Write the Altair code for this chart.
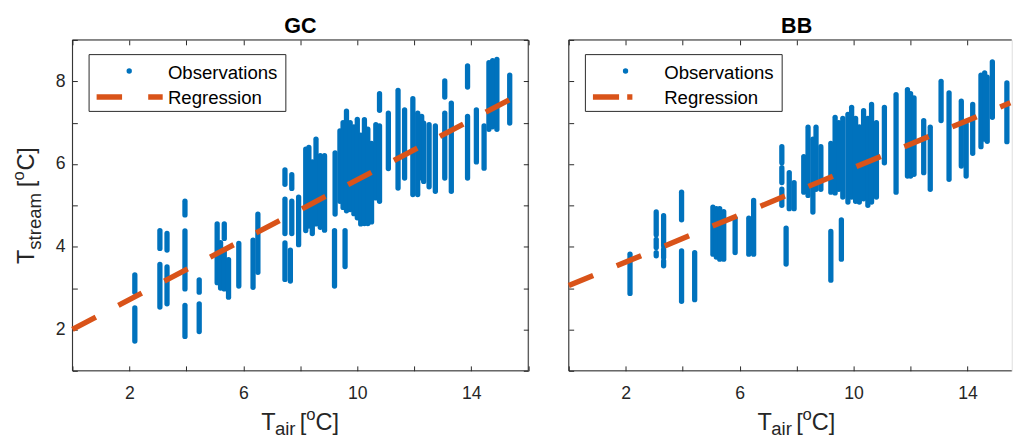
import altair as alt
import pandas as pd

# ---------------- data ----------------
# GC panel: vertical streaks of observations (air temperature, low / high stream temperature)
GC_x = [2.19, 2.19, 3.07, 3.07, 3.32, 3.32, 3.95, 3.95, 3.95, 4.45, 4.45, 5.08, 5.20, 5.33, 5.33,
        5.48, 5.84, 6.34, 6.51, 7.46, 7.46, 7.46, 7.70, 7.70, 7.65, 7.94, 8.19, 8.30, 8.42, 8.55,
        8.70, 8.85, 9.22, 9.20, 9.57, 9.39, 9.50, 9.62, 9.75, 9.88, 10.00, 10.12, 10.25, 10.37,
        10.50, 10.65, 10.78, 10.78, 11.09, 11.43, 11.66, 11.95, 12.12, 12.26, 12.33, 12.52, 12.74,
        13.07, 13.07, 13.30, 13.87, 13.87, 14.18, 14.45, 14.62, 14.75, 14.90, 15.35]
GC_lo = [2.90, 1.72, 3.96, 2.54, 3.92, 2.62, 4.77, 2.98, 1.83, 2.90, 1.95, 3.13, 3.00, 4.20, 2.98,
         2.78, 3.05, 3.02, 3.38, 5.51, 4.32, 3.21, 5.41, 4.32, 3.17, 4.05, 4.39, 4.50, 4.32, 4.55,
         4.47, 4.40, 4.79, 3.05, 3.52, 5.10, 4.95, 4.87, 4.90, 4.80, 4.70, 4.55, 4.56, 4.56,
         4.60, 5.18, 7.30, 5.10, 5.89, 5.42, 5.66, 5.26, 5.26, 5.66, 5.58, 5.45, 5.34,
         7.62, 5.66, 5.34, 7.86, 5.66, 6.05, 5.90, 6.84, 6.90, 6.84, 6.99]
GC_hi = [3.32, 2.52, 4.39, 3.57, 4.32, 3.51, 5.10, 4.38, 2.58, 3.20, 2.62, 4.55, 4.10, 4.55, 3.92,
         3.69, 4.08, 4.16, 4.79, 5.86, 5.15, 4.09, 5.74, 5.10, 3.92, 5.20, 6.36, 6.40, 6.05, 6.60,
         6.20, 6.20, 6.27, 4.39, 4.39, 6.80, 7.00, 7.28, 7.00, 6.90, 7.08, 6.70, 7.07, 6.84,
         6.50, 6.95, 7.70, 6.92, 7.23, 7.78, 7.31, 7.58, 7.23, 7.15, 6.99, 6.95, 6.92,
         8.01, 7.23, 7.47, 8.37, 7.15, 7.31, 6.92, 8.45, 8.50, 8.53, 8.15]

# BB panel
BB_x = [2.15, 3.07, 3.07, 3.07, 3.33, 3.33, 3.33, 3.96, 3.96, 4.42, 5.06, 5.18, 5.30, 5.44, 5.84,
        6.32, 6.49, 7.48, 7.48, 7.48, 7.63, 7.74, 7.91, 8.25, 8.40, 8.57, 8.68, 8.85, 9.20, 9.20,
        9.35, 9.48, 9.57, 9.62, 9.80, 9.93, 10.07, 10.20, 10.35, 10.50, 10.63, 10.80, 11.08,
        11.49, 11.89, 12.00, 12.12, 12.46, 12.69, 13.07, 13.35, 13.78, 13.95, 14.18, 14.47,
        14.60, 14.69, 14.87, 15.38]
BB_lo = [2.87, 4.29, 3.98, 3.78, 4.02, 3.74, 3.54, 4.65, 2.68, 2.72, 3.82, 3.75, 3.70, 3.70, 3.86,
         3.82, 3.82, 6.03, 5.55, 5.00, 3.58, 4.92, 4.92, 5.32, 5.24, 4.84, 5.39, 5.39, 5.32, 3.19,
         5.30, 5.39, 3.70, 5.20, 5.08, 5.20, 5.10, 5.08, 5.16, 5.00, 5.08, 5.20, 6.03,
         5.32, 5.71, 5.71, 5.75, 5.79, 5.39, 7.05, 5.63, 5.95, 5.71, 6.26, 6.42,
         6.60, 6.55, 7.13, 6.54]
BB_hi = [3.82, 4.84, 4.18, 3.86, 4.75, 3.94, 3.66, 5.32, 3.90, 3.86, 4.96, 4.92, 4.92, 4.85, 4.69,
         4.69, 5.12, 6.42, 5.91, 5.39, 4.45, 5.79, 5.55, 6.18, 6.89, 6.60, 6.89, 6.42, 6.50, 4.37,
         7.13, 7.00, 4.65, 7.10, 7.20, 7.37, 7.10, 6.90, 7.29, 7.10, 7.44, 7.00, 7.37,
         7.68, 7.80, 7.70, 7.60, 7.05, 6.89, 8.00, 7.72, 7.52, 6.97, 7.44, 8.15,
         8.20, 8.10, 8.47, 7.96]

# regression lines (end points)
GC_reg_x = [0.0, 15.5]
GC_reg_y = [2.0, 7.61]
BB_reg_x = [0.0, 15.5]
BB_reg_y = [3.06, 7.48]

panel_titles = ["GC", "BB"]
legend_labels = ["Observations", "Regression"]
x_title_parts = ["T", "air", "[", "o", "C]"]
y_title_parts = ["T", "stream", "[", "o", "C]"]
x_ticks = [0, 2, 4, 6, 8, 10, 12, 14, 16]
y_ticks = [1, 2, 3, 4, 5, 6, 7, 8, 9]

# ---------------- styling ----------------
BLUE = "#0072BD"
ORANGE = "#D95319"
AXC = "#262626"
FONT = "Liberation Sans"
H = 338
UNIT = 29.1  # px per degree on x


def one():
    return pd.DataFrame({"k": [0]})


def panel(title, xs, lo, hi, rx, ry, xmax, width, first, leg_dash, leg_x2):
    xscale = alt.Scale(domain=[0, xmax], nice=False, zero=False)
    yscale = alt.Scale(domain=[1, 9], nice=False, zero=False)

    # frame (box of the axes)
    if first:
        fr = pd.DataFrame({"x": [0, 0, 0, xmax], "x2": [0, xmax, xmax, xmax],
                           "y": [1, 9, 1, 1], "y2": [9, 9, 1, 9]})
    else:
        fr = pd.DataFrame({"x": [0, 0, 0], "x2": [0, xmax, xmax],
                           "y": [1, 9, 1], "y2": [9, 9, 1]})
    frame = alt.Chart(fr).mark_rule(color=AXC, strokeWidth=1).encode(
        x=alt.X("x:Q", scale=xscale, axis=None), x2="x2:Q",
        y=alt.Y("y:Q", scale=yscale, axis=None), y2="y2:Q")

    obs = alt.Chart(pd.DataFrame({"x": xs, "lo": lo, "hi": hi})).mark_rule(
        color=BLUE, strokeWidth=5.4, strokeCap="round").encode(
        x=alt.X("x:Q", scale=xscale, axis=alt.Axis(
            orient="bottom", values=[v for v in x_ticks if v <= xmax],
            labelExpr="datum.value % 4 == 2 ? datum.label : ''",
            offset=-5, tickSize=5, tickColor=AXC, tickWidth=1, domain=False, grid=False,
            labelPadding=14.5, labelFontSize=18, labelFont=FONT, labelColor=AXC,
            labelFlush=False, title=None)),
        y=alt.Y("lo:Q", scale=yscale, axis=alt.Axis(
            orient="left", values=y_ticks,
            labelExpr="datum.value % 2 == 0 ? datum.label : ''",
            labels=first, offset=-5, tickSize=5, tickColor=AXC, tickWidth=1, domain=False,
            grid=False, labelPadding=7.5, labelFontSize=18, labelFont=FONT, labelColor=AXC,
            labelFlush=False, title=None)),
        y2="hi:Q")

    yaxis_r = alt.Axis(orient="right", values=y_ticks, labels=False, offset=-5, tickSize=5,
                       tickColor=AXC, tickWidth=1, domain=False, grid=False, title=None) if first else None
    reg = alt.Chart(pd.DataFrame({"x": rx, "y": ry})).mark_line(
        color=ORANGE, strokeWidth=5.5, strokeDash=[27, 26], strokeCap="butt").encode(
        x=alt.X("x:Q", scale=xscale, axis=alt.Axis(
            orient="top", values=[v for v in x_ticks if v <= xmax], labels=False, offset=-5,
            tickSize=5, tickColor=AXC, tickWidth=1, domain=False, grid=False, title=None)),
        y=alt.Y("y:Q", scale=yscale, axis=yaxis_r))

    # legend box
    box = alt.Chart(one()).mark_rect(fill="white", stroke=AXC, strokeWidth=1).encode(
        x=alt.value(17), x2=alt.value(218), y=alt.value(15), y2=alt.value(73))
    dot = alt.Chart(one()).mark_circle(color=BLUE, opacity=1, size=30).encode(
        x=alt.value(58), y=alt.value(31.7))
    sample = alt.Chart(one()).mark_rule(color=ORANGE, strokeWidth=5.5, strokeDash=leg_dash,
                                        strokeCap="butt").encode(
        x=alt.value(24.7), x2=alt.value(leg_x2), y=alt.value(58.3))
    t_obs = alt.Chart(one()).mark_text(align="left", baseline="alphabetic", fontSize=19,
                                       font=FONT, color="black").encode(
        x=alt.value(97.5), y=alt.value(40), text=alt.value(legend_labels[0]))
    t_reg = alt.Chart(one()).mark_text(align="left", baseline="alphabetic", fontSize=19,
                                       font=FONT, color="black").encode(
        x=alt.value(97.5), y=alt.value(65), text=alt.value(legend_labels[1]))

    # panel title
    ttl = alt.Chart(one()).mark_text(align="center", baseline="alphabetic", fontSize=22,
                                     fontWeight="bold", font=FONT, color="black").encode(
        x=alt.value(8 * UNIT), y=alt.value(-6.7), text=alt.value(title))

    layers = [frame, obs, reg, box, dot, sample, t_obs, t_reg, ttl]

    # x axis title: T_air [^oC]
    cx = 8 * UNIT - 40
    xpos = [(cx, H + 60, 24), (cx + 14, H + 66, 19), (cx + 39.5, H + 60, 24),
            (cx + 46, H + 50, 17), (cx + 55.5, H + 60, 24)]
    for txt, (px, py, fs) in zip(x_title_parts, xpos):
        layers.append(alt.Chart(one()).mark_text(align="left", baseline="alphabetic",
                                                 fontSize=fs, font=FONT, color=AXC).encode(
            x=alt.value(px), y=alt.value(py), text=alt.value(txt)))

    if first:
        cy = H / 2 + 60
        ypos = [(-39, cy, 24), (-32.5, cy - 14.7, 19), (-39, cy - 78.5, 24),
                (-49, cy - 85.5, 17), (-39, cy - 95.5, 24)]
        for txt, (px, py, fs) in zip(y_title_parts, ypos):
            layers.append(alt.Chart(one()).mark_text(align="left", baseline="alphabetic",
                                                     angle=270, fontSize=fs, font=FONT,
                                                     color=AXC).encode(
                x=alt.value(px), y=alt.value(py), text=alt.value(txt)))

    return alt.layer(*layers).resolve_axis(x="independent", y="independent").properties(
        width=width, height=H)


left = panel(panel_titles[0], GC_x, GC_lo, GC_hi, GC_reg_x, GC_reg_y, 16, 16 * UNIT, True,
             [26, 26.7], 92.2)
right = panel(panel_titles[1], BB_x, BB_lo, BB_hi, BB_reg_x, BB_reg_y, 15.55, 15.55 * UNIT, False,
              [26.7, 8.3], 65)

chart = alt.hconcat(left, right, spacing=28).properties(
    padding={"left": 10, "top": 10, "right": 0, "bottom": 0}
).configure_view(stroke=None).configure(background="white")

chart.save("out.html", embed_options={"renderer": "svg", "actions": False})
